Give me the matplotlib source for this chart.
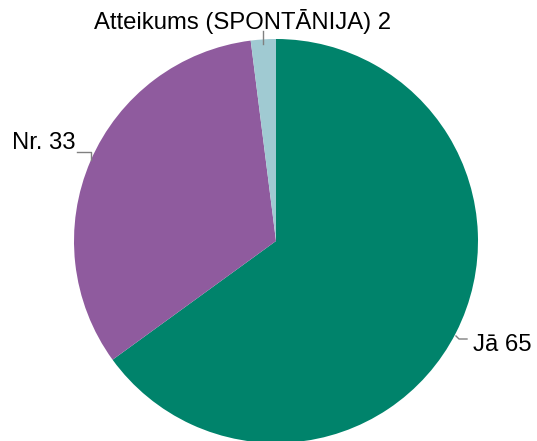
import matplotlib.pyplot as plt

plt.rcParams['font.family'] = ['Liberation Sans', 'DejaVu Sans']

# donnees du graphique
categories = ['Jā', 'Nr.', 'Atteikums (SPONTĀNIJA)']
valeurs = [65, 33, 2]
couleurs = ['#00836B', '#8F5B9E', '#A0CAD2']

W, H = 537, 441
fig = plt.figure(figsize=(W / 100, H / 100), dpi=100)
ax = fig.add_axes([0, 0, 1, 1])

# centre et rayon en pixels (y compte depuis le bas)
cx, cy, r = 276, H - 241, 202
ax.pie(valeurs, colors=couleurs, startangle=90, counterclock=False,
       center=(cx, cy), radius=r, frame=True,
       wedgeprops={'linewidth': 0})
ax.set_xlim(0, W)
ax.set_ylim(0, H)
ax.set_aspect('equal')
ax.axis('off')

# etiquettes + traits de rappel
fs = 17.2
gris = '#808080'
labels = [f'{c} {v}' for c, v in zip(categories, valeurs)]

ax.text(473, H - 345, labels[0], fontsize=fs, ha='left', va='center')
ax.plot([456, 459, 467], [H - 336, H - 339, H - 339], color=gris, lw=1)

ax.text(75, H - 143, labels[1], fontsize=fs, ha='right', va='center')
ax.plot([77, 91, 91], [H - 152, H - 152, H - 160], color=gris, lw=1)

ax.text(243, H - 22, labels[2], fontsize=fs, ha='center', va='center')
ax.plot([263, 263], [H - 31, H - 44], color=gris, lw=1)

plt.savefig('out.png', dpi=100)
